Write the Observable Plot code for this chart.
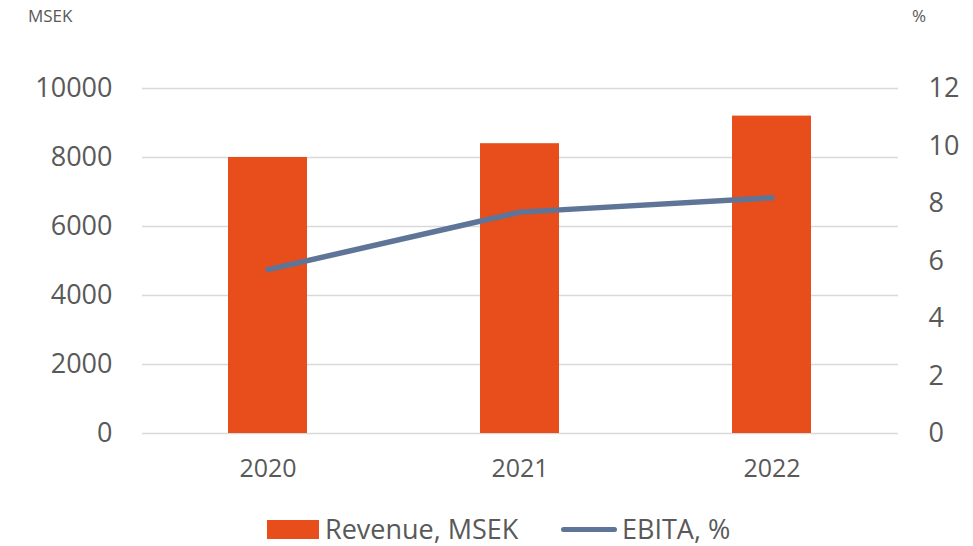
<!DOCTYPE html>
<html>
<head>
<meta charset="utf-8">
<script src="https://cdn.jsdelivr.net/npm/d3@7"></script>
<script src="https://cdn.jsdelivr.net/npm/@observablehq/plot@0.6"></script>
<style>
  html, body { margin: 0; padding: 0; background: #fff; }
  #wrap { position: relative; width: 973px; height: 546px; font-family: "Open Sans", sans-serif; color: #595959; overflow: hidden; }
  .unit { position: absolute; font-size: 17px; line-height: 20px; }
  #legend { position: absolute; top: 512px; left: 0; width: 973px; height: 34px; }
  .item { position: absolute; top: 0; display: flex; align-items: center; font-size: 27px; line-height: 34px; height: 34px; white-space: nowrap; }
  .sw-bar { width: 52px; height: 19px; background: #E84E1B; margin-right: 6px; }
  .sw-line { width: 56px; height: 5px; border-radius: 3px; background: #5F7597; margin-right: 5px; }
</style>
</head>
<body>
<div id="wrap">
  <div class="unit" style="left:28px; top:6px;">MSEK</div>
  <div class="unit" style="left:912px; top:6px;">%</div>
  <div id="chart"></div>
  <div id="legend">
    <div class="item" style="left:267px;"><div class="sw-bar"></div><span id="l1"></span></div>
    <div class="item" style="left:561px;"><div class="sw-line"></div><span id="l2"></span></div>
  </div>
</div>
<script>
const years = ["2020", "2021", "2022"];
const revenue = [8000, 8400, 9200];
const ebita = [5.7, 7.7, 8.2];
const leftTicks = [0, 2000, 4000, 6000, 8000, 10000];
const rightTicks = [0, 2, 4, 6, 8, 10, 12];
const seriesNames = ["Revenue, MSEK", "EBITA, %"];
const leftMax = 10000;
const rightMax = 12;

const data = years.map((y, i) => ({year: y, revenue: revenue[i], ebita: ebita[i]}));
const toLeft = v => v * leftMax / rightMax;

const chart = Plot.plot({
  width: 973,
  height: 505,
  marginLeft: 142,
  marginRight: 75,
  marginTop: 88,
  marginBottom: 72,
  style: {fontFamily: "Open Sans, sans-serif", color: "#595959", background: "white", overflow: "visible"},
  x: {domain: years, paddingInner: 0.686, paddingOuter: 0.343, axis: null, label: null},
  y: {domain: [0, leftMax], axis: null, label: null},
  marks: [
    Plot.ruleY(leftTicks, {stroke: "#d9d9d9", strokeWidth: 1.5}),
    Plot.barY(data, {x: "year", y: "revenue", fill: "#E84E1B"}),
    Plot.line(data, {x: "year", y: d => toLeft(d.ebita), stroke: "#5F7597", strokeWidth: 5.5, strokeLinecap: "round", strokeLinejoin: "round"}),
    Plot.axisY(leftTicks, {anchor: "left", label: null, tickSize: 0, tickPadding: 30, fontSize: 27, tickFormat: d => String(d), fill: "#595959"}),
    Plot.text(rightTicks, {y: d => toLeft(d), text: d => String(d), frameAnchor: "right", dx: 30, textAnchor: "start", fontSize: 27, fill: "#595959"}),
    Plot.axisX(years, {anchor: "bottom", label: null, tickSize: 0, tickPadding: 26, fontSize: 25, fill: "#595959"})
  ]
});
document.getElementById("chart").appendChild(chart);
document.getElementById("l1").textContent = seriesNames[0];
document.getElementById("l2").textContent = seriesNames[1];
</script>
</body>
</html>
